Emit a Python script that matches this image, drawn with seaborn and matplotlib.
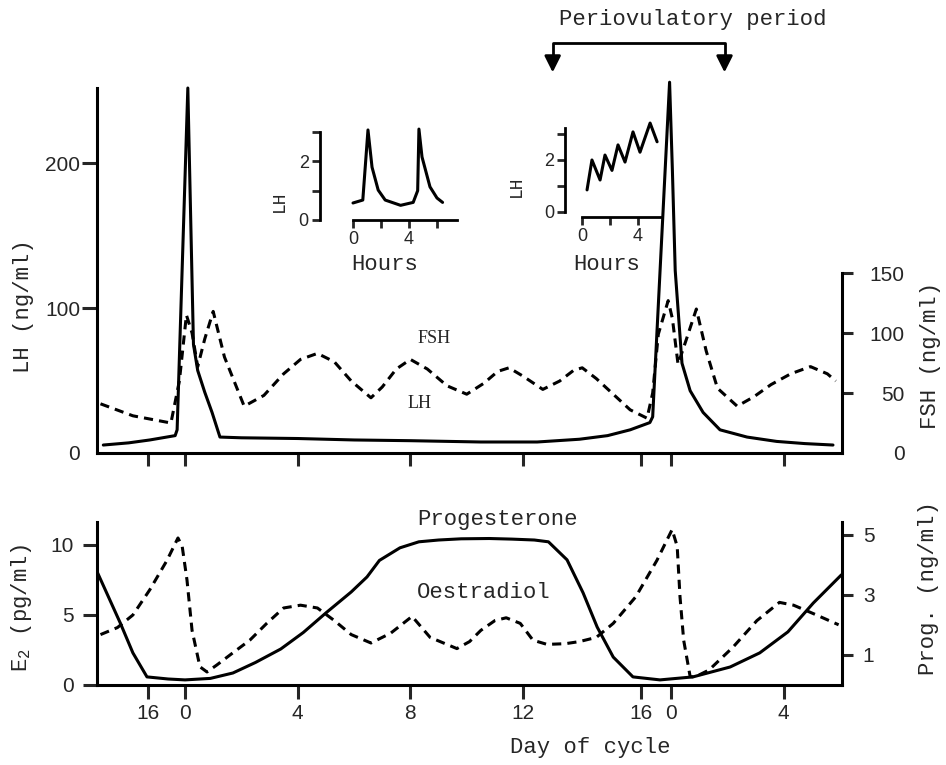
import matplotlib
matplotlib.use('Agg')
import matplotlib.pyplot as plt
import seaborn as sns

# ----------------------------------------------------------------------
# Datos (dia 0 = pico de LH; el segundo "0" cae en 17.25)
# ----------------------------------------------------------------------
lh_day = [-2.9, -2.0, -1.25, -0.35, -0.28, 0.1, 0.25, 0.3, 0.45, 0.7, 0.96, 1.24,
          2.0, 4.0, 6.0, 8.0, 10.5, 12.5, 14.0, 15.0, 15.8, 16.5, 16.6, 17.2, 17.3,
          17.4, 17.64, 17.93, 18.39, 18.99, 19.95, 21.0, 22.0, 23.0]
lh_ngml = [5.5, 7, 9, 12, 16, 252, 119, 75, 57, 42, 28, 11,
           10.5, 10, 9, 8.5, 7.6, 7.6, 9.5, 12, 16, 21, 25, 256, 195,
           126, 62, 43, 28, 16, 11, 8, 6.5, 5.5]

fsh_day = [-3.0, -1.85, -0.5, -0.2, 0.05, 0.25, 0.45, 0.7, 1.0, 1.4, 2.1, 2.8, 3.5,
           4.1, 4.7, 5.3, 5.9, 6.6, 7.0, 7.5, 8.0, 8.6, 9.3, 10.0, 10.6, 11.1, 11.5,
           12.0, 12.7, 13.3, 13.8, 14.1, 14.6, 15.2, 15.8, 16.4, 16.6, 16.8, 17.15,
           17.3, 17.5, 17.8, 18.15, 18.5, 18.9, 19.6, 20.2, 20.8, 21.5, 22.2, 22.8, 23.1]
fsh_ngml = [41, 31, 25, 60, 115, 100, 72, 95, 118, 80, 39, 48, 66,
            78, 83, 76, 60, 46, 55, 70, 78, 70, 56, 49, 58, 68, 71,
            64, 53, 60, 69, 71, 62, 49, 36, 29, 50, 99, 127,
            112, 74, 95, 120, 85, 54, 39, 47, 57, 66, 72, 66, 60]

# pulsos de LH (insertos, en horas)
early_h = [0, 0.7, 1.07, 1.36, 1.8, 2.3, 3.4, 4.3, 4.62, 4.71, 4.93, 5.5, 6.0, 6.4]
early_lh = [0.58, 0.68, 3.07, 1.8, 1.02, 0.68, 0.5, 0.6, 1.0, 3.1, 2.15, 1.13, 0.75, 0.6]
late_h = [0.36, 0.71, 1.29, 1.64, 2.14, 2.57, 3.07, 3.64, 4.14, 4.86, 5.36]
late_lh = [0.85, 2.0, 1.23, 2.19, 1.6, 2.58, 1.92, 3.08, 2.3, 3.42, 2.7]

e2_day = [-3.0, -2.4, -1.85, -1.25, -0.64, -0.25, -0.1, 0.07, 0.25, 0.53, 0.78,
          1.13, 1.7, 2.3, 2.9, 3.5, 4.1, 4.7, 5.3, 5.9, 6.6, 7.3, 8.06, 8.7, 9.65,
          10.1, 10.5, 11.0, 11.4, 11.9, 12.35, 12.85, 13.5, 14.0, 14.6, 15.2, 16.0,
          16.75, 17.29, 17.47, 17.57, 17.7, 17.93, 18.1, 18.6, 19.45, 20.3, 21.1,
          21.6, 22.3, 23.2]
e2_pgml = [3.6, 4.1, 5.0, 6.8, 8.9, 10.5, 9.9, 7.5, 3.9, 1.3, 0.93,
           1.43, 2.3, 3.2, 4.4, 5.5, 5.7, 5.5, 4.6, 3.6, 3.0, 3.7, 4.9, 3.4, 2.6,
           3.1, 3.9, 4.6, 4.8, 4.4, 3.2, 2.9, 2.95, 3.1, 3.4, 4.4, 6.3,
           8.9, 11.1, 9.9, 6.3, 3.2, 0.6, 0.57, 1.07, 2.7, 4.6, 5.9,
           5.7, 5.1, 4.3]

prog_day = [-3.1, -2.3, -1.85, -1.35, -0.6, 0.0, 0.9, 1.7, 2.5, 3.4, 4.2, 5.0, 5.9,
            6.46, 6.9, 7.63, 8.3, 9.0, 9.8, 10.8, 11.6, 12.4, 12.9, 13.56, 14.13,
            14.63, 15.2, 15.9, 16.86, 18.03, 19.35, 20.4, 21.4, 22.3, 23.3]
prog_ngml = [3.73, 2.07, 1.07, 0.27, 0.2, 0.17, 0.22, 0.4, 0.75, 1.2, 1.75, 2.4, 3.1,
             3.6, 4.15, 4.57, 4.77, 4.83, 4.87, 4.88, 4.86, 4.83, 4.77, 4.17, 3.07,
             1.93, 0.93, 0.27, 0.17, 0.27, 0.6, 1.07, 1.77, 2.73, 3.67]

day_ticks = [-1.3, 0, 4, 8, 12, 16.2, 17.25, 21.25]
day_labels = ['16', '0', '4', '8', '12', '16', '0', '4']
peri_start, peri_end = 13.05, 19.15

# ----------------------------------------------------------------------
# Estilo
# ----------------------------------------------------------------------
sns.set_style('ticks')
plt.rcParams['font.family'] = ['Liberation Sans', 'DejaVu Sans']
plt.rcParams['mathtext.default'] = 'regular'
plt.rcParams['axes.linewidth'] = 2.2
plt.rcParams['axes.edgecolor'] = 'black'
MONO = 'Liberation Mono'
W, H = 946, 765


def box(x0, y0, x1, y1):
    # caja en pixeles (origen arriba-izquierda) -> fracciones de figura
    return [x0 / W, 1 - y1 / H, (x1 - x0) / W, (y1 - y0) / H]


def fxy(x, y):
    return x / W, 1 - y / H


fig = plt.figure(figsize=(9.46, 7.65), dpi=100)
fig.patch.set_facecolor('white')

ax_lh = fig.add_axes(box(97, 88, 842, 453))
ax_fsh = ax_lh.twinx()
ax_e2 = fig.add_axes(box(97, 522, 842, 685))
ax_prog = ax_e2.twinx()
ins1 = fig.add_axes(box(353, 132, 457, 220))
ins2 = fig.add_axes(box(582, 128, 662, 212))

line_kw = dict(color='black', linewidth=2.2, estimator=None, sort=False, legend=False)
dash = (0, (3, 2))

# --- panel superior: LH / FSH ---
sns.lineplot(x=lh_day, y=lh_ngml, ax=ax_lh, clip_on=False, **line_kw)
sns.lineplot(x=fsh_day, y=fsh_ngml, ax=ax_fsh, linestyle=dash, **line_kw)

ax_lh.set_xlim(-3.124, 23.32)
ax_lh.set_ylim(0, 252)
ax_fsh.set_ylim(0, 304.2)
ax_lh.set_xticks(day_ticks)
ax_lh.tick_params(axis='x', length=9, width=2.2, labelbottom=False)
ax_lh.set_yticks([0, 100, 200])
ax_lh.tick_params(axis='y', length=11, width=2.2, labelsize=15, pad=1)
ax_lh.yaxis.get_major_ticks()[0].tick1line.set_visible(False)
ax_fsh.set_yticks([0, 50, 100, 150])
ax_fsh.tick_params(axis='y', length=8, width=2.2, labelsize=15, pad=37)
for t in ax_fsh.get_yticklabels():
    t.set_horizontalalignment('right')
ax_fsh.yaxis.get_major_ticks()[0].tick2line.set_visible(False)

for s in ['top', 'right']:
    ax_lh.spines[s].set_visible(False)
for s in ['top', 'left', 'bottom']:
    ax_fsh.spines[s].set_visible(False)
ax_fsh.spines['right'].set_bounds(0, 150)
for a in (ax_lh, ax_fsh):
    a.set_xlabel('')
    a.set_ylabel('')

ax_lh.text(8.84, 79, 'FSH', family='Liberation Serif', size=13, ha='center', va='center')
ax_lh.text(8.34, 34.5, 'LH', family='Liberation Serif', size=13, ha='center', va='center')

# corchete del periodo periovulatorio
ax_lh.plot([peri_start, peri_start, peri_end, peri_end], [270, 283.4, 283.4, 270],
           color='black', lw=2, clip_on=False)
for d in (peri_start, peri_end):
    ax_lh.annotate('', xy=(d, 262.8), xytext=(d, 272), annotation_clip=False,
                   arrowprops=dict(arrowstyle='-|>,head_length=0.7,head_width=0.35',
                                   color='black', lw=2, shrinkA=0, shrinkB=0,
                                   mutation_scale=14))

# --- panel inferior: estradiol / progesterona ---
sns.lineplot(x=prog_day, y=prog_ngml, ax=ax_prog, **line_kw)
sns.lineplot(x=e2_day, y=e2_pgml, ax=ax_e2, linestyle=dash, **line_kw)

ax_e2.set_xlim(-3.124, 23.32)
ax_e2.set_ylim(0, 11.64)
ax_prog.set_ylim(0, 5.43)
ax_e2.set_xticks(day_ticks)
ax_e2.set_xticklabels(day_labels)
ax_e2.tick_params(axis='x', length=10, width=2.2, labelsize=15, pad=4)
ax_e2.set_yticks([0, 5, 10])
ax_e2.tick_params(axis='y', length=10, width=2.2, labelsize=15, pad=6.5)
ax_prog.set_yticks([1, 3, 5])
ax_prog.tick_params(axis='y', length=8, width=2.2, labelsize=15, pad=7)
for s in ['top', 'right']:
    ax_e2.spines[s].set_visible(False)
for s in ['top', 'left', 'bottom']:
    ax_prog.spines[s].set_visible(False)
for a in (ax_e2, ax_prog):
    a.set_xlabel('')
    a.set_ylabel('')

ax_e2.text(11.08, 11.8, 'Progesterone', family=MONO, size=16, ha='center', va='center')
ax_e2.text(10.6, 6.57, 'Oestradiol', family=MONO, size=16, ha='center', va='center')

# --- insertos de pulsos de LH ---
sns.lineplot(x=early_h, y=early_lh, ax=ins1, clip_on=False, **line_kw)
sns.lineplot(x=late_h, y=late_lh, ax=ins2, clip_on=False, **line_kw)

ins1.set_xlim(0, 7.43)
ins1.set_ylim(0, 3)
ins2.set_xlim(0, 5.71)
ins2.set_ylim(0, 3.23)
ins1.set_xticks([0, 2, 4, 6])
ins1.set_xticklabels(['0', '', '4', ''])
ins2.set_xticks([0, 2, 4])
ins2.set_xticklabels(['0', '', '4'])
for ins in (ins1, ins2):
    ins.set_facecolor('none')
    ins.set_yticks([0, 1, 2, 3])
    ins.set_yticklabels(['0', '', '2', ''])
    ins.tick_params(length=6, width=2, labelsize=13, pad=2)
    ins.spines['top'].set_visible(False)
    ins.spines['right'].set_visible(False)
    ins.spines['left'].set_linewidth(2)
    ins.spines['bottom'].set_linewidth(2)
    ins.set_xlabel('')
    ins.set_ylabel('')
ins1.spines['left'].set_position(('outward', 23.8))
ins2.spines['left'].set_position(('outward', 12.2))
ins2.spines['bottom'].set_position(('outward', 3.6))

ins1.text(-0.71, 0.216, 'LH', transform=ins1.transAxes, rotation=90,
          ha='center', va='center', family=MONO, size=13)
ins2.text(-0.825, 0.31, 'LH', transform=ins2.transAxes, rotation=90,
          ha='center', va='center', family=MONO, size=13)
ins1.text(0.308, -0.51, 'Hours', transform=ins1.transAxes,
          ha='center', va='center', family=MONO, size=16)
ins2.text(0.31, -0.63, 'Hours', transform=ins2.transAxes,
          ha='center', va='center', family=MONO, size=16)

# --- rotulos de ejes y titulo ---
lab = dict(family=MONO, size=16, ha='center', va='center')
fig.text(*fxy(23, 306), 'LH (ng/ml)', rotation=90, **lab)
fig.text(*fxy(930, 355), 'FSH (ng/ml)', rotation=90, **lab)
fig.text(*fxy(22, 608), 'E$_2$ (pg/ml)', rotation=90, **lab)
fig.text(*fxy(928, 588), 'Prog. (ng/ml)', rotation=90, **lab)
fig.text(*fxy(590, 747), 'Day of cycle', **lab)
fig.text(*fxy(693, 20), 'Periovulatory period', **lab)

fig.savefig('out.png', dpi=100, facecolor='white')
plt.close(fig)
